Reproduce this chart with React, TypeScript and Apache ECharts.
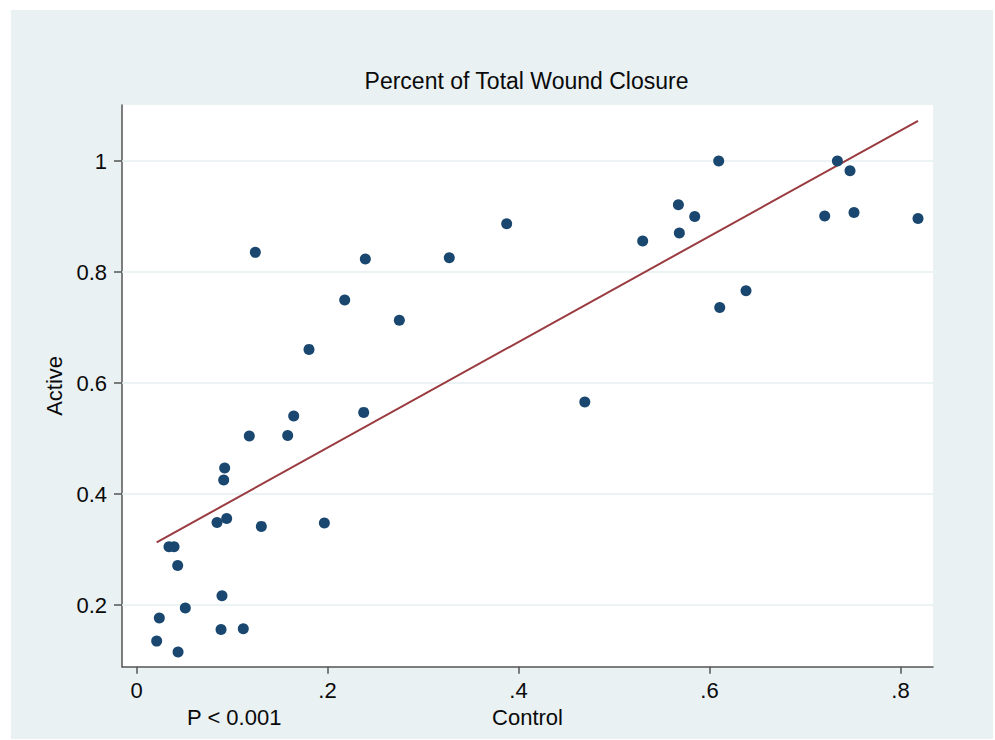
import React, { useEffect, useRef } from "react";
import * as echarts from "echarts";

const controlValues = [
  0.1244, 0.1806, 0.218, 0.2396, 0.2752, 0.3275, 0.3876, 0.53, 0.5674, 0.5684,
  0.5845, 0.6096, 0.6107, 0.6382, 0.7206, 0.7339, 0.7471, 0.7513, 0.8183, 0.4694,
  0.2379, 0.1646, 0.1181, 0.1583, 0.0923, 0.0913, 0.0843, 0.0944, 0.1307, 0.1967,
  0.034, 0.0393, 0.0431, 0.0895, 0.0511, 0.0239, 0.0885, 0.1118, 0.0211, 0.0435,
];
const activeValues = [
  0.8355, 0.6607, 0.7495, 0.8234, 0.713, 0.8258, 0.887, 0.856, 0.9213, 0.8703,
  0.9003, 1.0, 0.7363, 0.7664, 0.901, 1.0, 0.9826, 0.9075, 0.8967, 0.5658,
  0.5472, 0.5405, 0.5045, 0.5057, 0.4468, 0.4252, 0.349, 0.3562, 0.3418, 0.3477,
  0.305, 0.305, 0.2715, 0.2168, 0.1946, 0.1766, 0.1562, 0.1573, 0.1351, 0.1153,
];
const fitLineX = [0.0211, 0.8183];
const fitLineY = [0.313, 1.0726];
const xTickValues = [0, 0.2, 0.4, 0.6, 0.8];
const xTickLabels = ["0", ".2", ".4", ".6", ".8"];
const yTickValues = [0.2, 0.4, 0.6, 0.8, 1];
const yTickLabels = ["0.2", "0.4", "0.6", "0.8", "1"];

const FONT = "'Liberation Sans', Arial, Helvetica, sans-serif";
const TEXT = "#0a0a0a";
const AXIS = "#555555";

function labelFor(values: number[], labels: string[], v: number) {
  for (let i = 0; i < values.length; i++) {
    if (Math.abs(values[i] - v) < 1e-6) return labels[i];
  }
  return "";
}

export default function App() {
  const ref = useRef<HTMLDivElement>(null);
  useEffect(() => {
    if (!ref.current) return;
    const chart = echarts.init(ref.current, null, { renderer: "svg" });
    const points = controlValues.map((x, i) => [x, activeValues[i]]);
    const fit = fitLineX.map((x, i) => [x, fitLineY[i]]);
    chart.setOption({
      animation: false,
      backgroundColor: "#ffffff",
      graphic: [
        {
          type: "rect",
          z: -10,
          silent: true,
          shape: { x: 11, y: 10, width: 982, height: 729 },
          style: { fill: "#e9f1f3" },
        },
        {
          type: "text",
          x: 526.5,
          y: 81,
          style: {
            text: "Percent of Total Wound Closure",
            fontSize: 23,
            fontFamily: FONT,
            fill: TEXT,
            align: "center",
            verticalAlign: "middle",
          },
        },
        {
          type: "text",
          x: 187,
          y: 717,
          style: {
            text: "P < 0.001",
            fontSize: 22,
            fontFamily: FONT,
            fill: TEXT,
            align: "left",
            verticalAlign: "middle",
          },
        },
      ],
      grid: {
        left: 122,
        right: 62,
        top: 105,
        bottom: 73.3,
        show: true,
        backgroundColor: "#ffffff",
        borderWidth: 0,
      },
      xAxis: {
        type: "value",
        min: -0.0152,
        max: 0.834,
        name: "Control",
        nameLocation: "middle",
        nameGap: 38,
        nameTextStyle: { fontSize: 22, fontFamily: FONT, color: TEXT },
        axisLine: { show: true, onZero: false, lineStyle: { color: AXIS, width: 1.5 } },
        axisTick: { show: true, length: 7, customValues: xTickValues, lineStyle: { color: AXIS, width: 1.5 } },
        axisLabel: {
          customValues: xTickValues,
          margin: 13,
          fontSize: 22,
          fontFamily: FONT,
          color: TEXT,
          formatter: (v: number) => labelFor(xTickValues, xTickLabels, v),
        },
        splitLine: { show: false },
      },
      yAxis: {
        type: "value",
        min: 0.089,
        max: 1.101,
        name: "Active",
        nameLocation: "middle",
        nameGap: 52,
        nameRotate: 90,
        nameTextStyle: { fontSize: 22, fontFamily: FONT, color: TEXT },
        axisLine: { show: true, onZero: false, lineStyle: { color: AXIS, width: 1.5 } },
        axisTick: { show: true, length: 8, customValues: yTickValues, lineStyle: { color: AXIS, width: 1.5 } },
        axisLabel: {
          customValues: yTickValues,
          margin: 15,
          fontSize: 22,
          fontFamily: FONT,
          color: TEXT,
          formatter: (v: number) => labelFor(yTickValues, yTickLabels, v),
        },
        splitLine: { show: false },
      },
      series: [
        {
          type: "scatter",
          data: [],
          z: 1,
          silent: true,
          markLine: {
            z: 1,
            silent: true,
            symbol: "none",
            label: { show: false },
            lineStyle: { color: "#e6eff2", width: 1.5, type: "solid" },
            data: yTickValues.map((v) => ({ yAxis: v })),
          },
        },
        {
          type: "line",
          data: fit,
          z: 2,
          showSymbol: false,
          symbol: "none",
          lineStyle: { color: "#9a3b40", width: 2 },
        },
        {
          type: "scatter",
          data: points,
          z: 3,
          symbol: "circle",
          symbolSize: 11,
          itemStyle: { color: "#1a476f", opacity: 1 },
        },
      ],
    });
    return () => chart.dispose();
  }, []);
  return (
    <div
      ref={ref}
      style={{ position: "fixed", left: 0, top: 0, width: 995, height: 740, background: "#fff" }}
    />
  );
}
